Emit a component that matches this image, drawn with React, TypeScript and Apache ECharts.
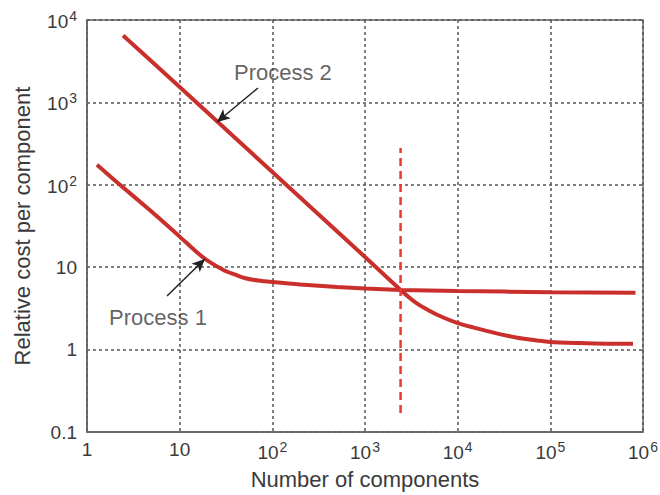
import React, { useEffect, useRef } from 'react';
import * as echarts from 'echarts';

// Process 1 curve (number of components, relative cost)
const process1X = [1.28, 2, 5, 10, 15, 20, 30, 40, 50, 70, 100, 200, 500, 1000, 2420, 10000, 100000, 830000];
const process1Y = [175, 113, 47, 23.5, 15.5, 12, 9.2, 8.1, 7.4, 6.9, 6.6, 6.15, 5.75, 5.5, 5.3, 5.15, 4.98, 4.9];

// Process 2 curve
const process2X = [2.45, 10, 100, 1000, 2420, 3500, 5000, 7000, 10000, 15000, 20000, 30000, 50000, 100000, 200000, 400000, 780000];
const process2Y = [6500, 1540, 143, 13.3, 5.3, 3.75, 2.95, 2.45, 2.1, 1.85, 1.7, 1.52, 1.36, 1.24, 1.2, 1.18, 1.18];

// Vertical break-even marker
const breakEvenX = [2420, 2420];
const breakEvenY = [0.17, 280];

// Annotation labels and arrows: [text x, text y], arrow tail, arrow head
const labelNames = ['Process 2', 'Process 1'];
const labelPos = [[130, 2275], [5.83, 2.42]];
const arrowTail = [[70, 1497], [7.3, 4.47]];
const arrowHead = [[25.3, 578], [18.7, 12.6]];

const FONT = 'Liberation Sans, Arial, sans-serif';
const TEXT = '#3a3a3a';

function pow10Label(v: number): string {
  const e = Math.round(Math.log10(v));
  if (e === -1) return '0.1';
  if (e === 0) return '1';
  if (e === 1) return '10';
  return '{b|10}{s|' + e + '}';
}

const rich = {
  b: { fontSize: 19, color: TEXT, fontFamily: FONT, lineHeight: 22, verticalAlign: 'bottom' },
  s: { fontSize: 14, color: TEXT, fontFamily: FONT, lineHeight: 14, verticalAlign: 'top', padding: [0, 0, 0, 1] },
};

export default function App() {
  const ref = useRef<HTMLDivElement>(null);
  useEffect(() => {
    if (!ref.current) return;
    const chart = echarts.init(ref.current, null, { renderer: 'svg' });
    const red = '#c9302c';
    chart.setOption({
      animation: false,
      backgroundColor: '#ffffff',
      grid: {
        left: 87, right: 17, top: 20, bottom: 63,
        show: true, borderColor: '#666', borderWidth: 1.5,
        outerBoundsMode: 'none',
      },
      xAxis: {
        type: 'log', logBase: 10, min: 1, max: 1000000,
        name: 'Number of components', nameLocation: 'middle', nameGap: 36,
        nameTextStyle: { fontSize: 22, color: TEXT, fontFamily: FONT },
        axisLine: { show: true, lineStyle: { color: '#666', width: 1.5 } },
        axisTick: { show: false },
        minorTick: { show: false },
        axisLabel: {
          margin: 8, formatter: pow10Label, rich,
          fontSize: 19, color: TEXT, fontFamily: FONT,
        },
        splitLine: { show: true, lineStyle: { color: '#555', width: 1.5, type: [3, 3] } },
      },
      yAxis: {
        type: 'log', logBase: 10, min: 0.1, max: 10000,
        name: 'Relative cost per component', nameLocation: 'middle', nameGap: 54,
        nameTextStyle: { fontSize: 22, color: TEXT, fontFamily: FONT },
        axisLine: { show: true, lineStyle: { color: '#666', width: 1.5 } },
        axisTick: { show: false },
        minorTick: { show: false },
        axisLabel: {
          margin: 10, formatter: pow10Label, rich,
          fontSize: 19, color: TEXT, fontFamily: FONT,
        },
        splitLine: { show: true, lineStyle: { color: '#555', width: 1.5, type: [3, 3] } },
      },
      series: [
        {
          type: 'line', name: 'Process 1', showSymbol: false, symbol: 'none',
          smooth: 0.25,
          lineStyle: { color: red, width: 4 },
          data: process1X.map((x, i) => [x, process1Y[i]]),
          z: 3,
        },
        {
          type: 'line', name: 'Process 2', showSymbol: false, symbol: 'none',
          smooth: 0.25,
          lineStyle: { color: red, width: 4 },
          data: process2X.map((x, i) => [x, process2Y[i]]),
          z: 3,
        },
        {
          type: 'line', name: 'Break-even', showSymbol: false, symbol: 'none',
          lineStyle: { color: '#e8392f', width: 2.5, type: [8, 5] },
          data: breakEvenX.map((x, i) => [x, breakEvenY[i]]),
          z: 4,
          markLine: {
            silent: true,
            symbol: ['none', 'arrow'],
            symbolSize: [9, 13],
            label: { show: false },
            lineStyle: { color: '#222', width: 1.5, type: 'solid' },
            data: arrowTail.map((t, i) => [{ coord: t }, { coord: arrowHead[i] }]),
          },
        },
        {
          type: 'scatter', name: 'labels', symbolSize: 0,
          data: labelNames.map((n, i) => ({ value: labelPos[i], name: n })),
          label: {
            show: true, position: 'inside', formatter: (p: any) => p.name,
            fontSize: 22, color: TEXT, fontFamily: FONT,
          },
          z: 5,
        },
      ],
    });
    return () => chart.dispose();
  }, []);
  return <div ref={ref} style={{ position: 'absolute', left: 0, top: 0, width: 660, height: 495 }} />;
}
